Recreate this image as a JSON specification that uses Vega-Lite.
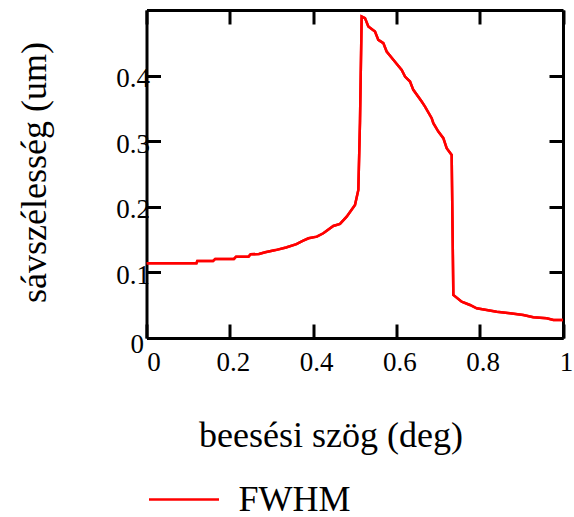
{
  "$schema": "https://vega.github.io/schema/vega-lite/v6.json",
  "width": 416.5,
  "height": 328,
  "autosize": "none",
  "padding": {"left": 146.5, "top": 10, "right": 11, "bottom": 179},
  "background": "white",
  "config": {
    "view": {"stroke": null},
    "font": "Liberation Serif",
    "axis": {
      "grid": false,
      "domainColor": "black",
      "domainWidth": 3,
      "tickColor": "black",
      "tickWidth": 3,
      "tickSize": -14,
      "labelFont": "Liberation Serif",
      "labelFontSize": 27,
      "labelColor": "black",
      "titleFont": "Liberation Serif",
      "titleFontSize": 36,
      "titleFontWeight": "normal",
      "titleColor": "black"
    }
  },
  "data": {
    "values": [
      {"x": 0, "y": 0.114, "s": "FWHM"},
      {"x": 0.12, "y": 0.114, "s": "FWHM"},
      {"x": 0.122, "y": 0.1175, "s": "FWHM"},
      {"x": 0.16, "y": 0.1175, "s": "FWHM"},
      {"x": 0.165, "y": 0.1205, "s": "FWHM"},
      {"x": 0.21, "y": 0.1205, "s": "FWHM"},
      {"x": 0.215, "y": 0.124, "s": "FWHM"},
      {"x": 0.245, "y": 0.124, "s": "FWHM"},
      {"x": 0.25, "y": 0.1276, "s": "FWHM"},
      {"x": 0.27, "y": 0.128, "s": "FWHM"},
      {"x": 0.285, "y": 0.1307, "s": "FWHM"},
      {"x": 0.31, "y": 0.134, "s": "FWHM"},
      {"x": 0.335, "y": 0.138, "s": "FWHM"},
      {"x": 0.36, "y": 0.143, "s": "FWHM"},
      {"x": 0.375, "y": 0.148, "s": "FWHM"},
      {"x": 0.389, "y": 0.152, "s": "FWHM"},
      {"x": 0.409, "y": 0.1545, "s": "FWHM"},
      {"x": 0.4245, "y": 0.1597, "s": "FWHM"},
      {"x": 0.4485, "y": 0.1708, "s": "FWHM"},
      {"x": 0.4646, "y": 0.1739, "s": "FWHM"},
      {"x": 0.4806, "y": 0.185, "s": "FWHM"},
      {"x": 0.5006, "y": 0.2029, "s": "FWHM"},
      {"x": 0.5086, "y": 0.2257, "s": "FWHM"},
      {"x": 0.5126, "y": 0.33, "s": "FWHM"},
      {"x": 0.5166, "y": 0.49, "s": "FWHM"},
      {"x": 0.5246, "y": 0.4876, "s": "FWHM"},
      {"x": 0.5326, "y": 0.4749, "s": "FWHM"},
      {"x": 0.5486, "y": 0.4672, "s": "FWHM"},
      {"x": 0.5566, "y": 0.4545, "s": "FWHM"},
      {"x": 0.5686, "y": 0.4495, "s": "FWHM"},
      {"x": 0.5766, "y": 0.4367, "s": "FWHM"},
      {"x": 0.5926, "y": 0.4241, "s": "FWHM"},
      {"x": 0.6127, "y": 0.4088, "s": "FWHM"},
      {"x": 0.6207, "y": 0.3986, "s": "FWHM"},
      {"x": 0.6327, "y": 0.391, "s": "FWHM"},
      {"x": 0.6406, "y": 0.3783, "s": "FWHM"},
      {"x": 0.6607, "y": 0.3604, "s": "FWHM"},
      {"x": 0.6687, "y": 0.3528, "s": "FWHM"},
      {"x": 0.6847, "y": 0.3351, "s": "FWHM"},
      {"x": 0.6887, "y": 0.3275, "s": "FWHM"},
      {"x": 0.7007, "y": 0.3147, "s": "FWHM"},
      {"x": 0.7127, "y": 0.3046, "s": "FWHM"},
      {"x": 0.7207, "y": 0.2893, "s": "FWHM"},
      {"x": 0.7327, "y": 0.2791, "s": "FWHM"},
      {"x": 0.7367, "y": 0.0656, "s": "FWHM"},
      {"x": 0.7567, "y": 0.0554, "s": "FWHM"},
      {"x": 0.7767, "y": 0.0503, "s": "FWHM"},
      {"x": 0.7927, "y": 0.0453, "s": "FWHM"},
      {"x": 0.8168, "y": 0.0427, "s": "FWHM"},
      {"x": 0.8408, "y": 0.0401, "s": "FWHM"},
      {"x": 0.8727, "y": 0.0377, "s": "FWHM"},
      {"x": 0.9047, "y": 0.0351, "s": "FWHM"},
      {"x": 0.9287, "y": 0.0316, "s": "FWHM"},
      {"x": 0.961, "y": 0.03, "s": "FWHM"},
      {"x": 0.977, "y": 0.0275, "s": "FWHM"},
      {"x": 1.0, "y": 0.0275, "s": "FWHM"}
    ]
  },
  "resolve": {"axis": {"x": "independent", "y": "independent"}},
  "layer": [
    {
      "mark": {"type": "line", "strokeWidth": 2.5, "clip": true},
      "encoding": {
        "x": {
          "field": "x", "type": "quantitative",
          "scale": {"domain": [0, 1], "nice": false, "zero": false},
          "axis": {
            "orient": "bottom",
            "values": [0, 0.2, 0.4, 0.6, 0.8, 1],
            "labelExpr": "datum.value === 0 ? '0' : datum.value === 1 ? '1' : format(datum.value, '.1f')",
            "labelFlush": false,
            "labelPadding": 25,
            "labelOffset": {"condition": {"test": "datum.value === 0", "value": 7}, "value": 3},
            "title": "beesési szög (deg)",
            "titleX": 184,
            "titlePadding": 43
          }
        },
        "y": {
          "field": "y", "type": "quantitative",
          "scale": {"domain": [0, 0.5], "nice": false},
          "axis": {
            "orient": "left",
            "values": [0, 0.1, 0.2, 0.3, 0.4],
            "labelExpr": "datum.value === 0 ? '0' : format(datum.value, '.1f')",
            "labelFlush": false,
            "labelPadding": {"condition": {"test": "datum.value === 0", "value": 17}, "value": 11},
            "labelOffset": {"condition": {"test": "datum.value === 0", "value": 6}, "value": 3},
            "title": "sávszélesség (um)",
            "titleY": 162,
            "titlePadding": 62
          }
        },
        "color": {
          "field": "s", "type": "nominal",
          "scale": {"range": ["#ff0000"]},
          "legend": {
            "orient": "none",
            "legendX": 1,
            "legendY": 453,
            "title": null,
            "symbolType": "stroke",
            "symbolSize": 4900,
            "symbolStrokeWidth": 2.5,
            "labelFont": "Liberation Serif",
            "labelFontSize": 36,
            "labelColor": "black",
            "labelOffset": 18
          }
        }
      }
    },
    {
      "mark": {"type": "line", "strokeWidth": 2.5, "clip": true},
      "encoding": {
        "x": {
          "field": "x", "type": "quantitative",
          "axis": {"orient": "top", "values": [0, 0.2, 0.4, 0.6, 0.8, 1], "labels": false, "title": null}
        },
        "y": {
          "field": "y", "type": "quantitative",
          "axis": {"orient": "right", "values": [0, 0.1, 0.2, 0.3, 0.4], "labels": false, "title": null}
        },
        "color": {"field": "s", "type": "nominal"}
      }
    }
  ]
}
